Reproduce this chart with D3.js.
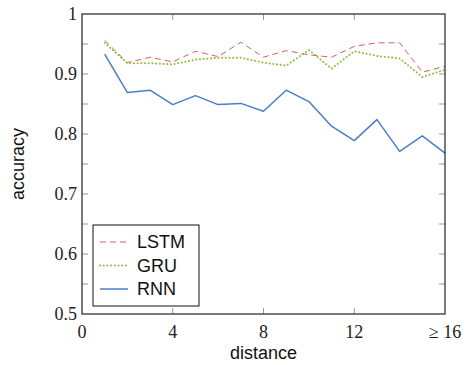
<!DOCTYPE html>
<html>
<head>
<meta charset="utf-8">
<script src="https://cdn.jsdelivr.net/npm/d3@7"></script>
<style>
  body { margin: 0; background: #fff; }
  .serif { font-family: 'Liberation Serif', 'DejaVu Serif', serif; }
  .sans { font-family: 'Liberation Sans', Arial, Helvetica, sans-serif; }
</style>
</head>
<body>
<svg id="chart" width="468" height="365"></svg>
<script>
const distances = d3.range(1, 17)
const lstm = [0.956, 0.919, 0.928, 0.920, 0.938, 0.929, 0.953, 0.928, 0.939, 0.932, 0.928, 0.946, 0.952, 0.952, 0.903, 0.913]
const gru = [0.952, 0.918, 0.918, 0.916, 0.924, 0.927, 0.927, 0.919, 0.914, 0.940, 0.909, 0.938, 0.930, 0.926, 0.895, 0.907]
const rnn = [0.933, 0.869, 0.873, 0.849, 0.864, 0.849, 0.851, 0.838, 0.873, 0.854, 0.813, 0.789, 0.824, 0.771, 0.797, 0.768]
const xTicks = [0, 4, 8, 12, 16]
const xTickLabels = ['0', '4', '8', '12', '\u2265 16']
const yTicks = [0.5, 0.6, 0.7, 0.8, 0.9, 1]
const yMinor = [0.55, 0.65, 0.75, 0.85, 0.95]

const series = [
  { name: 'LSTM', values: lstm, color: '#d0605e', dash: '6,4', width: 1 },
  { name: 'GRU', values: gru, color: '#8fbc3f', dash: '0.1,3.6', width: 2, cap: 'round' },
  { name: 'RNN', values: rnn, color: '#4a7fc6', dash: null, width: 1.5 },
]

const svg = d3.select('#chart')
const margin = { left: 82, right: 23, top: 14, bottom: 51 }
const width = 468, height = 365

const x = d3.scaleLinear().domain([0, 16]).range([margin.left, width - margin.right])
const y = d3.scaleLinear().domain([0.5, 1]).range([height - margin.bottom, margin.top])

const tickColor = '#999'
const tickLen = 6

// ticks (inward, on all four sides)
const ticksG = svg.append('g').attr('stroke', tickColor).attr('stroke-width', 1)
xTicks.slice(1, -1).forEach(t => {
  ticksG.append('line').attr('x1', x(t)).attr('x2', x(t))
    .attr('y1', y(0.5)).attr('y2', y(0.5) - tickLen)
  ticksG.append('line').attr('x1', x(t)).attr('x2', x(t))
    .attr('y1', y(1)).attr('y2', y(1) + tickLen)
})
yTicks.slice(1, -1).concat(yMinor).forEach(t => {
  ticksG.append('line').attr('x1', x(0)).attr('x2', x(0) + tickLen)
    .attr('y1', y(t)).attr('y2', y(t))
  ticksG.append('line').attr('x1', x(16)).attr('x2', x(16) - tickLen)
    .attr('y1', y(t)).attr('y2', y(t))
})

// lines
const line = d3.line()
  .x((d, i) => x(distances[i]))
  .y(d => y(d))

series.forEach(s => {
  svg.append('path')
    .datum(s.values)
    .attr('fill', 'none')
    .attr('stroke', s.color)
    .attr('stroke-width', s.width)
    .attr('stroke-dasharray', s.dash)
    .attr('stroke-linecap', s.cap || 'butt')
    .attr('stroke-linejoin', 'round')
    .attr('d', line)
})

// frame
svg.append('rect')
  .attr('x', x(0)).attr('y', y(1))
  .attr('width', x(16) - x(0)).attr('height', y(0.5) - y(1))
  .attr('fill', 'none').attr('stroke', '#222').attr('stroke-width', 1.2)

// tick labels
svg.append('g').selectAll('text')
  .data(xTicks)
  .join('text')
  .attr('class', 'serif')
  .attr('x', d => x(d))
  .attr('y', y(0.5) + 24)
  .attr('text-anchor', 'middle')
  .attr('font-size', 18)
  .attr('fill', '#222')
  .text((d, i) => xTickLabels[i])

svg.append('g').selectAll('text')
  .data(yTicks)
  .join('text')
  .attr('class', 'serif')
  .attr('x', x(0) - 5)
  .attr('y', d => y(d))
  .attr('dy', '0.35em')
  .attr('text-anchor', 'end')
  .attr('font-size', 18)
  .attr('fill', '#222')
  .text(d => d3.format('~g')(d))

// axis titles
svg.append('text')
  .attr('class', 'sans')
  .attr('x', x(8)).attr('y', 359)
  .attr('text-anchor', 'middle')
  .attr('font-size', 18)
  .attr('fill', '#111')
  .text('distance')

svg.append('text')
  .attr('class', 'sans')
  .attr('transform', `translate(24, ${y(0.75)}) rotate(-90)`)
  .attr('text-anchor', 'middle')
  .attr('font-size', 18)
  .attr('fill', '#111')
  .text('accuracy')

// legend
const legend = svg.append('g').attr('transform', 'translate(93, 225)')
legend.append('rect')
  .attr('width', 106).attr('height', 81)
  .attr('fill', '#fff').attr('stroke', '#111').attr('stroke-width', 1)

series.forEach((s, i) => {
  const ly = 17 + i * 23.5
  legend.append('line')
    .attr('x1', 7).attr('x2', 35)
    .attr('y1', ly).attr('y2', ly)
    .attr('stroke', s.color)
    .attr('stroke-width', s.width)
    .attr('stroke-dasharray', s.dash)
    .attr('stroke-linecap', s.cap || 'butt')
  legend.append('text')
    .attr('class', 'sans')
    .attr('x', 44).attr('y', ly)
    .attr('dy', '0.36em')
    .attr('font-size', 18)
    .attr('fill', '#111')
    .text(s.name)
})
</script>
</body>
</html>
